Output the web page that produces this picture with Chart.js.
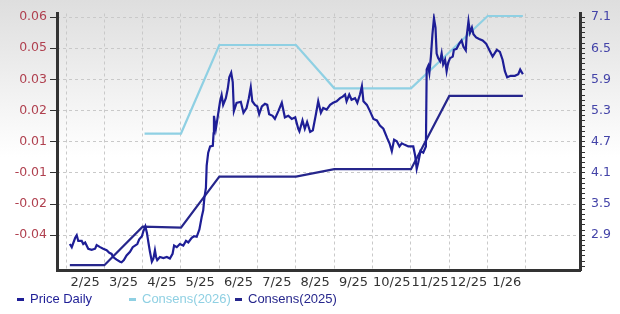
<!DOCTYPE html>
<html>
<head>
<meta charset="utf-8">
<script src="https://cdn.jsdelivr.net/npm/chart.js@4.4.1/dist/chart.umd.min.js"></script>
<style>
    html, body { margin: 0; padding: 0; background: #fff; }
    #wrap { position: relative; width: 620px; height: 314px; }
    #legend { position: absolute; left: 0; top: 291px; width: 620px; height: 18px;
              font: 13px "Liberation Sans", Arial, sans-serif; }
    .item { position: absolute; top: 0; white-space: nowrap; }
    .item i { display: inline-block; width: 7px; height: 3px; vertical-align: middle; margin-right: 6px; }
</style>
</head>
<body>
<div id="wrap">
    <canvas id="chart"></canvas>
    <div id="legend"></div>
</div>
<script>
// x values are months since 1 Feb 2025 (0 = start of 2/25, 12 = start of 2/26)
const monthLabels = ['2/25', '3/25', '4/25', '5/25', '6/25', '7/25', '8/25', '9/25', '10/25', '11/25', '12/25', '1/26'];

const priceT = [
    0.10, 0.15, 0.24, 0.28, 0.32, 0.41, 0.45, 0.50, 0.58, 0.67,
    0.76, 0.80, 0.89, 0.97, 1.06, 1.13, 1.19, 1.23, 1.32, 1.41,
    1.45, 1.51, 1.58, 1.67, 1.74, 1.80, 1.86, 1.91, 1.98, 2.02,
    2.07, 2.11, 2.15, 2.19, 2.24, 2.28, 2.32, 2.35, 2.38, 2.45,
    2.54, 2.63, 2.71, 2.78, 2.82, 2.89, 2.97, 3.06, 3.13, 3.19,
    3.28, 3.34, 3.41, 3.48, 3.54, 3.58, 3.61, 3.65, 3.67, 3.71,
    3.76, 3.83, 3.85, 3.86, 3.91, 3.95, 4.02, 4.06, 4.10, 4.17,
    4.22, 4.26, 4.31, 4.35, 4.38, 4.45, 4.56, 4.63, 4.71, 4.77,
    4.82, 4.86, 4.93, 4.99, 5.04, 5.11, 5.19, 5.25, 5.30, 5.39,
    5.45, 5.54, 5.63, 5.71, 5.80, 5.89, 5.98, 6.06, 6.09,
    6.17, 6.23, 6.29, 6.37, 6.44, 6.52, 6.58, 6.65, 6.71, 6.80,
    6.89, 6.97, 7.06, 7.15, 7.22, 7.28, 7.32, 7.39, 7.45, 7.54,
    7.60, 7.67, 7.72, 7.76, 7.85, 7.93, 8.02, 8.11, 8.19, 8.28,
    8.38, 8.44, 8.50, 8.56, 8.63, 8.70, 8.76, 8.84, 8.93, 9.06,
    9.11, 9.15, 9.19, 9.25, 9.32, 9.39, 9.41, 9.45, 9.48, 9.52,
    9.56, 9.60, 9.64, 9.67, 9.71, 9.76, 9.80, 9.84, 9.89, 9.93,
    9.97, 10.02, 10.09, 10.12, 10.19, 10.26, 10.32, 10.37, 10.43, 10.45,
    10.50, 10.54, 10.59, 10.63, 10.70, 10.78, 10.87, 10.96, 11.04, 11.13,
    11.24, 11.32, 11.39, 11.45, 11.51, 11.60, 11.71, 11.80, 11.85, 11.92
];
const priceValues = [
    2.73, 2.67, 2.85, 2.90, 2.79, 2.79, 2.73, 2.76, 2.64, 2.62,
    2.64, 2.71, 2.67, 2.64, 2.61, 2.56, 2.54, 2.48, 2.43, 2.39,
    2.38, 2.42, 2.51, 2.58, 2.67, 2.70, 2.73, 2.82, 2.88, 2.98,
    3.07, 2.95, 2.76, 2.58, 2.39, 2.45, 2.61, 2.48, 2.42, 2.48,
    2.46, 2.48, 2.45, 2.54, 2.70, 2.67, 2.73, 2.70, 2.79, 2.76,
    2.85, 2.88, 2.87, 3.01, 3.25, 3.38, 3.62, 3.81, 4.24, 4.49,
    4.61, 4.62, 4.86, 5.20, 4.95, 5.14, 5.48, 5.60, 5.41, 5.54,
    5.72, 5.94, 6.03, 5.85, 5.29, 5.45, 5.47, 5.26, 5.35, 5.54,
    5.75, 5.48, 5.41, 5.38, 5.23, 5.38, 5.43, 5.41, 5.23, 5.20,
    5.14, 5.29, 5.45, 5.17, 5.20, 5.14, 5.17, 4.95, 4.90,
    5.11, 4.95, 5.08, 4.89, 4.92, 5.23, 5.48, 5.26, 5.35, 5.32,
    5.41, 5.45, 5.48, 5.54, 5.57, 5.61, 5.48, 5.61, 5.51, 5.54,
    5.45, 5.61, 5.77, 5.48, 5.41, 5.29, 5.14, 5.11, 5.01, 4.95,
    4.77, 4.67, 4.52, 4.74, 4.71, 4.61, 4.67, 4.64, 4.61, 4.61,
    4.43, 4.18, 4.30, 4.52, 4.49, 4.61, 6.09, 6.16, 6.03, 6.34,
    6.77, 7.08, 6.90, 6.40, 6.31, 6.25, 6.40, 6.19, 6.28, 6.06,
    6.22, 6.31, 6.34, 6.47, 6.49, 6.59, 6.65, 6.53, 6.46, 6.71,
    7.02, 6.80, 6.90, 6.77, 6.71, 6.68, 6.65, 6.59, 6.47, 6.34,
    6.47, 6.43, 6.28, 6.06, 5.94, 5.97, 5.97, 6.00, 6.09, 6.00
];

const cons2026T = [2.05, 3, 4, 5, 6, 7, 8, 9, 10, 11, 11.92];
const cons2026Values = [0.0090, 0.0090, 0.0478, 0.0478, 0.0478, 0.0288, 0.0288, 0.0288, 0.0446, 0.0605, 0.0605];

const cons2025T = [0.10, 1, 2, 3, 4, 5, 6, 7, 8, 9, 10, 11, 11.92];
const cons2025Values = [-0.0487, -0.0487, -0.0318, -0.0322, -0.0099, -0.0099, -0.0099, -0.0066, -0.0066, -0.0066, 0.0255, 0.0255, 0.0255];

// right axis (price): labelled every 0.6, minor ticks every 0.1
const priceMajorTicks = [2.9, 3.5, 4.1, 4.7, 5.3, 5.9, 6.5, 7.1];
const priceMin = 2.23, priceMax = 7.17;

// left axis (EPS): same gridlines as the price axis
const epsTicks = [0.06, 0.0464, 0.0327, 0.0191, 0.0054, -0.0082, -0.0219, -0.0355];
const epsPerPriceStep = 0.01365;   // EPS change per 0.6 of price

function epsAt(p) {
    return 0.06 - (7.1 - p) / 0.6 * epsPerPriceStep;
}
function toPoints(xs, ys) {
    return xs.map((x, i) => ({ x: x, y: ys[i] }));
}

const backdrop = {
    id: 'backdrop',
    beforeDraw(chart) {
        const { ctx, width, height } = chart;
        const g = ctx.createLinearGradient(0, 0, 0, height);
        g.addColorStop(0, '#dedede');
        g.addColorStop(0.5, '#ffffff');
        ctx.save();
        ctx.fillStyle = g;
        ctx.fillRect(0, 0, width, height);
        ctx.restore();
    }
};

const tickFont = { family: 'DejaVu Sans', size: 12.5 };

const chart = new Chart(document.getElementById('chart'), {
    type: 'line',
    data: {
        datasets: [{
            label: 'Price Daily',
            data: toPoints(priceT, priceValues),
            yAxisID: 'y',
            borderColor: '#1e1e96',
            borderWidth: 2.2,
            order: 0
        }, {
            label: 'Consens(2026)',
            data: toPoints(cons2026T, cons2026Values),
            yAxisID: 'yL',
            borderColor: '#8fd0e3',
            borderWidth: 2.2,
            order: 1
        }, {
            label: 'Consens(2025)',
            data: toPoints(cons2025T, cons2025Values),
            yAxisID: 'yL',
            borderColor: '#26268c',
            borderWidth: 2.2,
            order: 1
        }]
    },
    options: {
        responsive: true,
        maintainAspectRatio: false,
        animation: false,
        layout: { padding: { top: 5, bottom: 22, left: 0, right: 0 } },
        elements: { point: { radius: 0 }, line: { tension: 0 } },
        plugins: { legend: { display: false }, tooltip: { enabled: false } },
        scales: {
            x: {
                type: 'linear',
                min: -0.235,
                max: 13.41,
                afterFit(scale) { scale.height = 22; },
                afterBuildTicks(scale) {
                    const ticks = [];
                    for (let i = 0; i <= 25; i++) ticks.push({ value: i / 2 });
                    scale.ticks = ticks;
                },
                grid: {
                    drawTicks: false,
                    color: ctx => (ctx.tick && Number.isInteger(ctx.tick.value)) ? '#c9c9c9' : 'rgba(0,0,0,0)'
                },
                border: { color: '#333', width: 3, dash: [3, 3] },
                ticks: {
                    autoSkip: false,
                    maxRotation: 0,
                    padding: 5,
                    color: '#333',
                    font: { family: 'DejaVu Sans', size: 13 },
                    callback: v => Number.isInteger(v) ? '' : (monthLabels[Math.floor(v)] || '')
                }
            },
            yL: {
                type: 'linear',
                position: 'left',
                min: epsAt(priceMin),
                max: epsAt(priceMax),
                afterFit(scale) { scale.width = 57; },
                afterBuildTicks(scale) {
                    scale.ticks = epsTicks.map(v => ({ value: v }));
                },
                grid: { drawOnChartArea: false, tickLength: 7, tickColor: '#333' },
                border: { color: '#333', width: 3 },
                ticks: {
                    padding: 3,
                    color: '#b0404f',
                    font: tickFont,
                    callback: v => v.toFixed(2)
                }
            },
            y: {
                type: 'linear',
                position: 'right',
                min: priceMin,
                max: priceMax,
                afterFit(scale) { scale.width = 40; },
                afterBuildTicks(scale) {
                    const ticks = [];
                    for (let k = 23; k <= 71; k++) ticks.push({ value: k / 10 });
                    scale.ticks = ticks;
                },
                grid: {
                    tickLength: 5,
                    tickColor: '#333',
                    color: ctx => (ctx.tick && priceMajorTicks.some(m => Math.abs(m - ctx.tick.value) < 1e-6)) ? '#c9c9c9' : 'rgba(0,0,0,0)'
                },
                border: { color: '#333', width: 3, dash: [3, 3] },
                ticks: {
                    autoSkip: false,
                    padding: 6,
                    color: '#4444a8',
                    font: tickFont,
                    callback: v => priceMajorTicks.some(m => Math.abs(m - v) < 1e-6) ? v.toFixed(1) : ''
                }
            }
        }
    },
    plugins: [backdrop]
});

// Legend row under the chart
const legendX = [17, 129, 235];
const legendEl = document.getElementById('legend');
chart.data.datasets.forEach((ds, i) => {
    const item = document.createElement('span');
    item.className = 'item';
    item.style.left = legendX[i] + 'px';
    item.style.color = ds.borderColor;
    item.innerHTML = '<i style="background:' + ds.borderColor + '"></i>' + ds.label;
    legendEl.appendChild(item);
});
</script>
</body>
</html>
